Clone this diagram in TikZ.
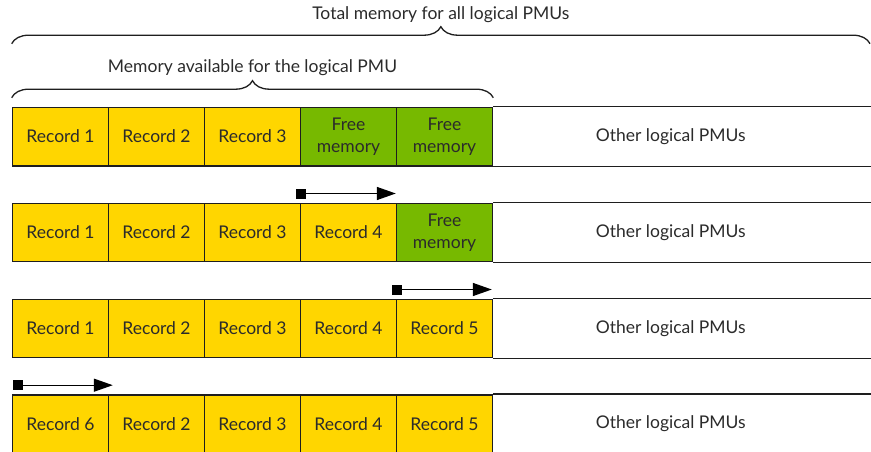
\documentclass[tikz,border=0pt]{standalone}
\usepackage{fontspec}
\setmainfont{Lato}
\usetikzlibrary{calc,positioning,arrows.meta,decorations.pathreplacing}
\definecolor{recyellow}{HTML}{FFD600}
\definecolor{freegreen}{HTML}{77B900}
\definecolor{linegray}{HTML}{1E1E1E}
\definecolor{txtgray}{HTML}{2B2B2B}
\tikzset{
  cell/.style={draw=linegray, line width=1.6pt, minimum width=96pt, minimum height=58.2pt, inner sep=0pt, text=txtgray, align=center, font=\fontsize{17.5}{22}\selectfont},
  lbl/.style={text=txtgray, inner sep=0pt, font=\fontsize{17.5}{20}\selectfont},
  rim/.style={draw=linegray, line width=1.6pt},
  marker/.style={line width=1.4pt, draw=black, {Square[length=10pt,width=10pt]}-{Triangle[length=19pt,width=13pt]}},
  span/.style={decorate, decoration={brace, amplitude=17pt}, line width=1.3pt, draw=linegray}
}
\begin{document}
\begin{tikzpicture}[x=1pt,y=-1pt]
  \useasboundingbox (0,0) rectangle (871,452);
  \coordinate (edge) at (871,0);
  % row 1: empty log
  \foreach \c/\t/\f in {1/Record 1/recyellow, 2/Record 2/recyellow, 3/Record 3/recyellow,
                        4/{Free\\memory}/freegreen, 5/{Free\\memory}/freegreen}
    \node[cell, fill=\f] (r1c\c) at (60.5+96*\c-96, 136.6) {\t};
  % row 2
  \foreach \c/\t/\f in {1/Record 1/recyellow, 2/Record 2/recyellow, 3/Record 3/recyellow,
                        4/Record 4/recyellow, 5/{Free\\memory}/freegreen}
    \node[cell, fill=\f] (r2c\c) at (60.5+96*\c-96, 232.4) {\t};
  % row 3
  \foreach \c in {1,...,5}
    \node[cell, fill=recyellow] (r3c\c) at (60.5+96*\c-96, 328.4) {Record \c};
  % row 4: wraps round
  \foreach \c/\t in {1/Record 6, 2/Record 2, 3/Record 3, 4/Record 4, 5/Record 5}
    \node[cell, fill=recyellow] (r4c\c) at (60.5+96*\c-96, 424.1) {\t};
  % other logical PMUs
  \foreach \r in {1,...,4}{
    \draw[rim] (r\r c5.north east) -- (r\r c5.north east -| edge);
    \draw[rim] (r\r c5.south east) -- (r\r c5.south east -| edge);
    \node[lbl] (o\r) at ($(r\r c5.east)+(177.5,0)$) {Other logical PMUs};
  }
  % write pointers
  \draw[marker] ($(r2c4.north west)+(-3.5,-9)$) -- ($(r2c4.north east)+(-1.5,-9)$);
  \draw[marker] ($(r3c5.north west)+(-3.5,-9)$) -- ($(r3c5.north east)+(-1.5,-9)$);
  \draw[marker] ($(r4c1.north west)+(1.5,-9)$) -- ($(r4c1.north east)+(3.5,-9)$);
  % braces
  \draw[span] ($(r1c1.north west)+(0,-9)$) coordinate (b1) -- ($(r1c5.north east)+(0,-9)$) coordinate (b2);
  \draw[span] ($(r1c1.north west)+(0,-63)$) coordinate (b3) -- ($(r1c5.north east -| edge)+(-1,-63)$) coordinate (b4);
  \node[lbl] (mem) at ($(b1)!0.5!(b2)+(0,-30)$) {Memory available for the logical PMU};
  \node[lbl] (tot) at ($(b3)!0.5!(b4)+(0,-29)$) {Total memory for all logical PMUs};
\end{tikzpicture}
\end{document}
